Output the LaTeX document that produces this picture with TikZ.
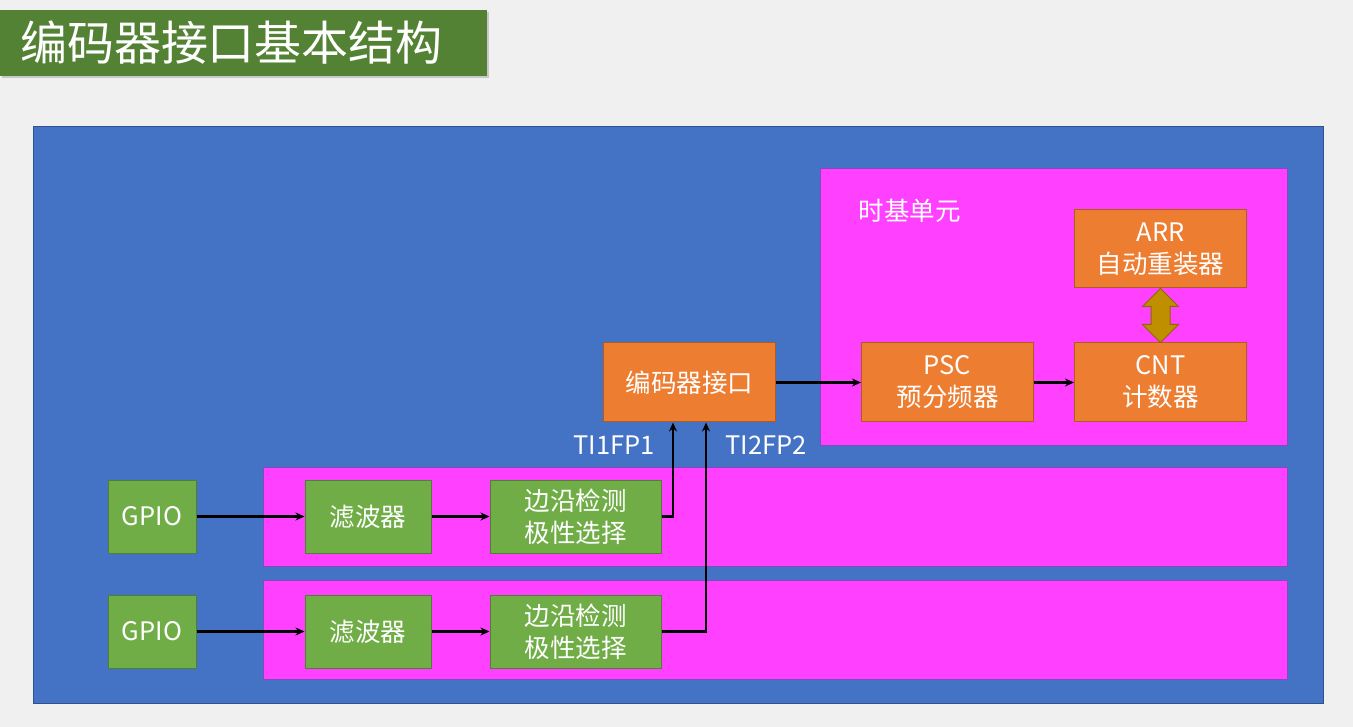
\documentclass[tikz,border=0pt]{standalone}
\usepackage{fontspec}
\setmainfont{Noto Sans CJK SC}
\usepackage{xcolor}
\usepackage{tikz}
\usetikzlibrary{positioning, arrows.meta, shadows}

\definecolor{pagegray}{HTML}{F0F0F0}
\definecolor{titlegreen}{HTML}{548235}
\definecolor{panelblue}{HTML}{4472C4}
\definecolor{panelline}{HTML}{2F528F}
\definecolor{unitpink}{HTML}{FF40FF}
\definecolor{boxorange}{HTML}{ED7D31}
\definecolor{orangeline}{HTML}{AE5A21}
\definecolor{boxgreen}{HTML}{70AD47}
\definecolor{greenline}{HTML}{507E32}
\definecolor{gold}{HTML}{BF8F00}
\definecolor{goldline}{HTML}{8C6900}

\begin{document}
\begin{tikzpicture}[x=1pt, y=1pt, node distance=40pt,
	txt/.style={text=white, font=\fontsize{25.5}{32}\selectfont},
	obox/.style={rectangle, draw=orangeline, fill=boxorange, line width=1pt, minimum width=172pt, minimum height=79pt, align=center, txt},
	gbox/.style={rectangle, draw=greenline, fill=boxgreen, line width=1pt, minimum height=73pt, align=center, txt},
	zone/.style={rectangle, draw=panelline!60!unitpink, fill=unitpink, line width=0.8pt, inner sep=0pt},
	conn/.style={-{Stealth[length=9pt, width=8pt]}, line width=2.6pt, black},
	dblarrow/.style={draw=goldline, fill=gold, line width=1pt, line join=miter}]
		\useasboundingbox[fill=pagegray] (0,0) rectangle (1353,-727);
		% title
		\node[rectangle, fill=titlegreen, drop shadow={shadow xshift=2pt, shadow yshift=-2pt, opacity=0.35}, minimum width=487pt, minimum height=66pt, text width=447pt, inner xsep=20pt, align=left, text=white, font=\fontsize{47}{52}\selectfont] (title) at (243.5,-43) {编码器接口基本结构};
		
		% panels
		\node[rectangle, draw=panelline, fill=panelblue, line width=1pt, inner sep=0pt, minimum width=1290pt, minimum height=576pt] (panel) at (678,-415) {};
		\node[zone, minimum width=467pt, minimum height=277pt] (tbase) at (1053.5,-306.5) {};
		\node[zone, minimum width=1024pt, minimum height=99pt] (chA) at (775,-516.5) {};
		\node[zone, minimum width=1024pt, minimum height=99pt] (chB) at (775,-629.5) {};
		\node[txt, anchor=west] (tblabel) at (855,-211) {时基单元};
		
		% blocks
		\node[obox] (enc) at (689.5,-382.5) {编码器接口};
		\node[obox, right=85pt of enc] (psc) {PSC\\预分频器};
		\node[obox, right=40pt of psc] (cnt) {CNT\\计数器};
		\node[obox, minimum height=78pt, above=54pt of cnt] (arr) {ARR\\自动重装器};
		
		\node[gbox, minimum width=88pt] (gpioA) at (152,-516.5) {GPIO};
		\node[gbox, minimum width=126pt, right=108pt of gpioA] (filtA) {滤波器};
		\node[gbox, minimum width=171pt, right=58pt of filtA] (edgeA) {边沿检测\\极性选择};
		\node[gbox, minimum width=88pt, below=41pt of gpioA] (gpioB) {GPIO};
		\node[gbox, minimum width=126pt, right=108pt of gpioB] (filtB) {滤波器};
		\node[gbox, minimum width=171pt, right=58pt of filtB] (edgeB) {边沿检测\\极性选择};
		
		\node[txt] (ti1) at (614,-445) {TI1FP1};
		\node[txt] (ti2) at (766,-445) {TI2FP2};
		
		% connectors
		\draw[conn] (gpioA) -- (filtA);
		\draw[conn] (filtA) -- (edgeA);
		\draw[conn] (gpioB) -- (filtB);
		\draw[conn] (filtB) -- (edgeB);
		\draw[conn] (edgeA.east) -| ([xshift=-16.5pt]enc.south);
		\draw[conn] (edgeB.east) -| ([xshift=16.5pt]enc.south);
		\draw[conn] (enc) -- (psc);
		\draw[conn] (psc) -- (cnt);
		\draw[dblarrow] (arr.south) -- ++(18,-18) -- ++(-8.5,0) -- ++(0,-18) -- ++(8.5,0) -- (cnt.north) -- ++(-18,18) -- ++(8.5,0) -- ++(0,18) -- ++(-8.5,0) -- cycle;
		\end{tikzpicture}
\end{document}
